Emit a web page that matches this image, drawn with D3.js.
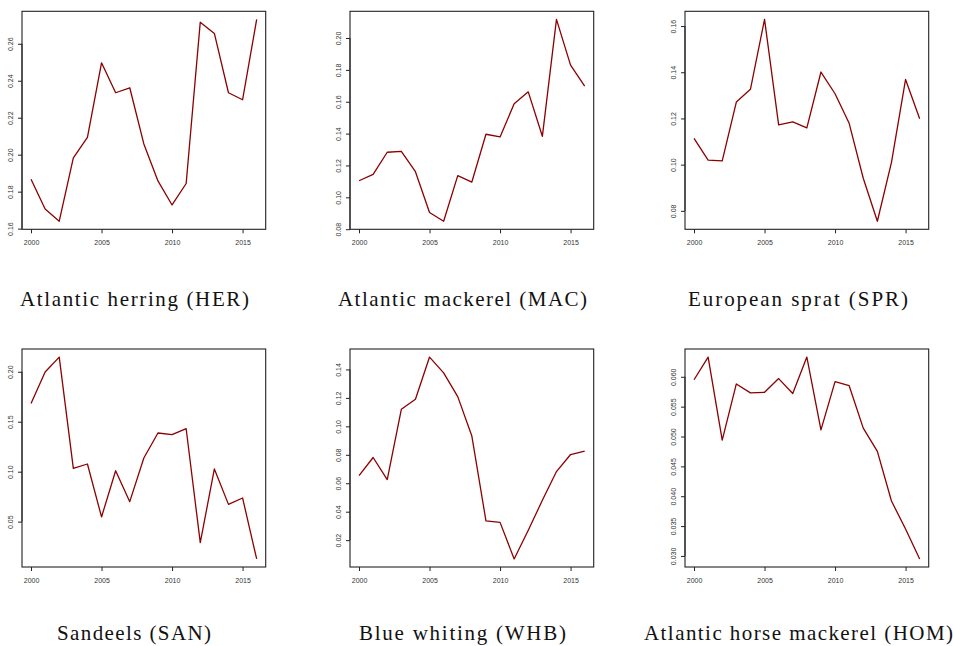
<!DOCTYPE html>
<html>
<head>
<meta charset="utf-8">
<script src="https://cdn.jsdelivr.net/npm/d3@7"></script>
<style>
  body { margin: 0; background: #fff; }
  svg { display: block; }
</style>
</head>
<body>
<svg id="chart" width="953" height="646"></svg>
<script>
// ---- data ----
const years = [2000, 2001, 2002, 2003, 2004, 2005, 2006, 2007, 2008, 2009, 2010, 2011, 2012, 2013, 2014, 2015, 2016];

const her = [0.1867, 0.1706, 0.1640, 0.1983, 0.2093, 0.2497, 0.2335, 0.2362, 0.2058, 0.1858, 0.1728, 0.1844, 0.2717, 0.2656, 0.2335, 0.2297, 0.2732];
const mac = [0.1104, 0.1144, 0.1283, 0.1289, 0.1161, 0.0905, 0.0850, 0.1136, 0.1096, 0.1396, 0.1379, 0.1587, 0.1662, 0.1383, 0.2117, 0.1830, 0.1698];
const spr = [0.1114, 0.1020, 0.1016, 0.1271, 0.1326, 0.1629, 0.1172, 0.1185, 0.1159, 0.1401, 0.1307, 0.1179, 0.0941, 0.0755, 0.1010, 0.1369, 0.1199];
const san = [0.1683, 0.1997, 0.2147, 0.1033, 0.1077, 0.0547, 0.1010, 0.0700, 0.1137, 0.1387, 0.1370, 0.1430, 0.0290, 0.1027, 0.0673, 0.0737, 0.0127];
const whb = [0.0654, 0.0781, 0.0626, 0.1120, 0.1191, 0.1487, 0.1376, 0.1209, 0.0932, 0.0336, 0.0325, 0.0068, 0.0270, 0.0480, 0.0682, 0.0802, 0.0826];
const hom = [0.0595, 0.0633, 0.0494, 0.0588, 0.0573, 0.0574, 0.0597, 0.0572, 0.0633, 0.0511, 0.0592, 0.0585, 0.0514, 0.0475, 0.0392, 0.0345, 0.0295];

const titles = ["Atlantic herring (HER)", "Atlantic mackerel (MAC)", "European sprat (SPR)",
                "Sandeels (SAN)", "Blue whiting (WHB)", "Atlantic horse mackerel (HOM)"];

const xTicks = [2000, 2005, 2010, 2015];
const herTicks = [0.16, 0.18, 0.20, 0.22, 0.24, 0.26];
const macTicks = [0.08, 0.10, 0.12, 0.14, 0.16, 0.18, 0.20];
const sprTicks = [0.08, 0.10, 0.12, 0.14, 0.16];
const sanTicks = [0.05, 0.10, 0.15, 0.20];
const whbTicks = [0.02, 0.04, 0.06, 0.08, 0.10, 0.12, 0.14];
const homTicks = [0.030, 0.035, 0.040, 0.045, 0.050, 0.055, 0.060];

const series = [her, mac, spr, san, whb, hom];
const yTickSets = [herTicks, macTicks, sprTicks, sanTicks, whbTicks, homTicks];
const yDecimals = [2, 2, 2, 2, 2, 3];

// ---- layout ----
const colLeft = [22, 350, 685];
const rowTop = [11.3, 349];
const pw = 243.7, ph = 218;
const titleX = [134.5, 462.5, 798, 134, 462.5, 798.5];
const titleW = [229, 249, 220, 154, 207, 309];
const titleBaseline = [306, 640];

const svg = d3.select("#chart");

series.forEach((vals, i) => {
  const col = i % 3, row = Math.floor(i / 3);
  const left = colLeft[col], top = rowTop[row];

  const xr = d3.extent(years), xpad = (xr[1] - xr[0]) * 0.04;
  const x = d3.scaleLinear().domain([xr[0] - xpad, xr[1] + xpad]).range([left, left + pw]);
  const yr = d3.extent(vals), ypad = (yr[1] - yr[0]) * 0.04;
  const y = d3.scaleLinear().domain([yr[0] - ypad, yr[1] + ypad]).range([top + ph, top]);

  const g = svg.append("g");

  // line
  g.append("path")
    .datum(vals)
    .attr("fill", "none")
    .attr("stroke", "#8B0000")
    .attr("stroke-width", 1.3)
    .attr("stroke-linejoin", "round")
    .attr("d", d3.line().x((d, j) => x(years[j])).y(d => y(d)));

  // box
  g.append("rect")
    .attr("x", left).attr("y", top)
    .attr("width", pw).attr("height", ph)
    .attr("fill", "none")
    .attr("stroke", "#222")
    .attr("stroke-width", 1.1);

  // x axis
  const xa = g.append("g")
    .attr("transform", `translate(0,${top + ph})`)
    .call(d3.axisBottom(x).tickValues(xTicks).tickSize(4).tickPadding(7).tickFormat(d3.format("d")));
  xa.select(".domain").remove();
  xa.selectAll("line").attr("stroke", "#222");
  xa.selectAll("text").attr("font-family", "Liberation Sans, Arial, sans-serif")
    .attr("font-size", 7).attr("fill", "#333");

  // y axis
  const ticks = yTickSets[i];
  const ya = g.append("g")
    .attr("transform", `translate(${left},0)`)
    .call(d3.axisLeft(y).tickValues(ticks).tickSize(4).tickFormat(d3.format(`.${yDecimals[i]}f`)));
  ya.select(".domain").remove();
  ya.append("line")
    .attr("x1", 0).attr("x2", 0)
    .attr("y1", y(ticks[0])).attr("y2", y(ticks[ticks.length - 1]))
    .attr("stroke", "#222").attr("stroke-width", 1);
  ya.selectAll(".tick line").attr("stroke", "#222");
  ya.selectAll("text")
    .attr("x", null).attr("dy", null)
    .attr("transform", "translate(-9.5,0) rotate(-90)")
    .attr("text-anchor", "middle")
    .attr("font-family", "Liberation Sans, Arial, sans-serif")
    .attr("font-size", 7).attr("fill", "#333");

  // title
  svg.append("text")
    .attr("x", titleX[i])
    .attr("y", titleBaseline[row])
    .attr("text-anchor", "middle")
    .attr("font-family", "Liberation Serif, Times New Roman, serif")
    .attr("font-size", 21)
    .attr("fill", "#111")
    .attr("textLength", titleW[i])
    .attr("lengthAdjust", "spacing")
    .text(titles[i]);
});
</script>
</body>
</html>
